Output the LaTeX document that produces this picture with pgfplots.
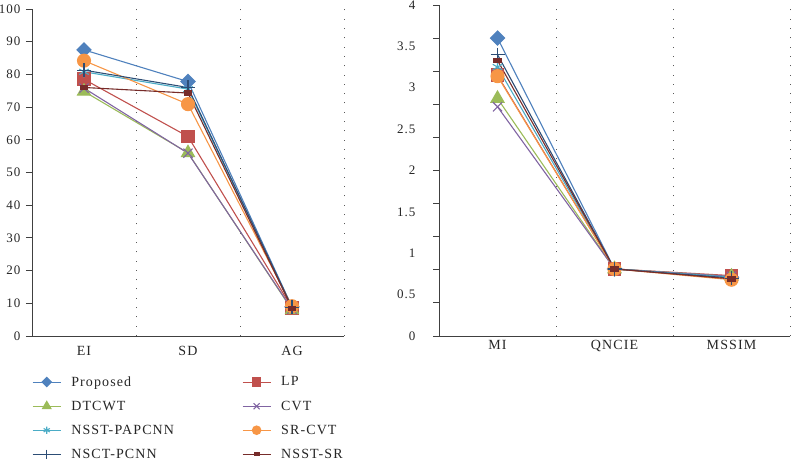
\documentclass[border=0pt]{standalone}
\usepackage{pgfplots}
\pgfplotsset{compat=1.18}
\usepackage{fontspec}
\setmainfont[LetterSpace=8]{Liberation Serif}
\definecolor{cP}{HTML}{4F81BD}
\definecolor{cLP}{HTML}{C0504D}
\definecolor{cDT}{HTML}{9BBB59}
\definecolor{cCVT}{HTML}{8064A2}
\definecolor{cNP}{HTML}{4BACC6}
\definecolor{cSR}{HTML}{F79646}
\definecolor{cNC}{HTML}{2C4D75}
\definecolor{cNS}{HTML}{772C2A}
\definecolor{axgray}{HTML}{404040}

\pgfplotstableread{
x P LP DT CVT NP SR NC NS
0 87.5 78.5 74.8 75.8 80.8 84.2 81.3 76.0
1 77.8 61.0 56.0 55.9 75.5 70.9 76.0 74.3
2 8.9 8.6 8.0 8.2 8.7 9.1 8.8 8.5
}\leftdata
\pgfplotstableread{
x P LP DT CVT NP SR NC NS
0 3.60 3.15 2.87 2.77 3.25 3.14 3.40 3.33
1 0.81 0.81 0.81 0.81 0.81 0.81 0.81 0.81
2 0.71 0.73 0.72 0.72 0.71 0.68 0.70 0.69
}\rightdata

\pgfplotsset{
  common/.style={
    scale only axis,
    axis x line*=bottom, axis y line*=left,
    axis line style={axgray, line width=0.9pt},
    xmin=-0.5, xmax=2.5,
    xtick={0,1,2},
    tick align=outside,
    tick style={axgray, line width=0.9pt},
    x tick style={draw=none},
    extra x ticks={0.5,1.5,2.5},
    extra x tick labels={},
    extra x tick style={grid=major, major grid style={black!65, line width=1pt, dash pattern=on 1pt off 8.3pt}},
    /pgf/number format/assume math mode=true,
    ticklabel style={font=\fontsize{13}{15}\selectfont, text=black!85},
    xticklabel style={font=\fontsize{14}{16}\selectfont, text=black!85, yshift=-1pt},
    clip=false,
    every axis plot/.append style={line width=1.1pt, solid},
    legend image code/.code={\path (36pt,0pt); \draw[mark repeat=2,mark phase=2,/tikz/every mark/.append style={scale=0.65}] plot coordinates {(0pt,0pt)(14pt,0pt)(28pt,0pt)};},
  },
  sP/.style={color=cP, mark=square*, mark size=5pt, mark options={solid, rotate=45, fill=cP, draw=cP}},
  sLP/.style={color=cLP, mark=square*, mark size=6.3pt, mark options={solid, fill=cLP, draw=cLP}},
  sDT/.style={color=cDT, mark=triangle*, mark size=7.5pt, mark options={solid, fill=cDT, draw=cDT}},
  sCVT/.style={color=cCVT, mark=x, mark size=6.5pt, mark options={solid, draw=cCVT}},
  sNP/.style={color=cNP, mark=asterisk, mark size=5.5pt, mark options={solid, draw=cNP}},
  sSR/.style={color=cSR, mark=*, mark size=6.5pt, mark options={solid, fill=cSR, draw=cSR}},
  sNC/.style={color=cNC, mark=+, mark size=7pt, mark options={solid, draw=cNC}},
  sNS/.style={color=cNS, mark=square*, mark size=3.8pt, mark options={solid, yscale=0.55, fill=cNS, draw=cNS}},
}

\begin{document}
\begin{tikzpicture}
\path[use as bounding box] (0,0) rectangle (791pt,462pt);
\begin{axis}[common,
  at={(32pt,126pt)}, anchor=south west,
  width=312pt, height=327pt,
  ymin=0, ymax=100, ytick={0,10,...,100},
  major tick length=6pt,
  yticklabel style={xshift=-2pt},
  xticklabels={EI,SD,AG},
  legend columns=2,
  legend cell align=left,
  legend style={at={(axis description cs:0,-0.117)}, anchor=north west, draw=none, fill=none,
    font=\fontsize{14}{16}\selectfont, text=black!85, inner sep=0pt,
    row sep=9.2pt,
    /tikz/every even column/.append style={column sep=66pt}},
]
\addplot[sP] table[x=x,y=P]{\leftdata};
\addlegendentry{Proposed}
\addplot[sLP] table[x=x,y=LP]{\leftdata};
\addlegendentry{LP}
\addplot[sDT] table[x=x,y=DT]{\leftdata};
\addlegendentry{DTCWT}
\addplot[sCVT] table[x=x,y=CVT]{\leftdata};
\addlegendentry{CVT}
\addplot[sNP] table[x=x,y=NP]{\leftdata};
\addlegendentry{NSST-PAPCNN}
\addplot[sSR] table[x=x,y=SR]{\leftdata};
\addlegendentry{SR-CVT}
\addplot[sNC] table[x=x,y=NC]{\leftdata};
\addlegendentry{NSCT-PCNN}
\addplot[sNS] table[x=x,y=NS]{\leftdata};
\addlegendentry{NSST-SR}
\end{axis}

\begin{axis}[common,
  at={(439pt,126pt)}, anchor=south west,
  width=351pt, height=331pt,
  ymin=0, ymax=4, ytick={0,0.5,...,4},
  minor ytick={0,0.4,...,4},
  major tick length=0pt, minor tick length=6pt,
  minor tick style={axgray, line width=0.9pt},
  yticklabel style={xshift=-20pt},
  xticklabels={MI,QNCIE,MSSIM},
]
\addplot[sP] table[x=x,y=P]{\rightdata};
\addplot[sLP] table[x=x,y=LP]{\rightdata};
\addplot[sDT] table[x=x,y=DT]{\rightdata};
\addplot[sCVT] table[x=x,y=CVT]{\rightdata};
\addplot[sNP] table[x=x,y=NP]{\rightdata};
\addplot[sSR] table[x=x,y=SR]{\rightdata};
\addplot[sNC] table[x=x,y=NC]{\rightdata};
\addplot[sNS] table[x=x,y=NS]{\rightdata};
\end{axis}
\end{tikzpicture}
\end{document}
